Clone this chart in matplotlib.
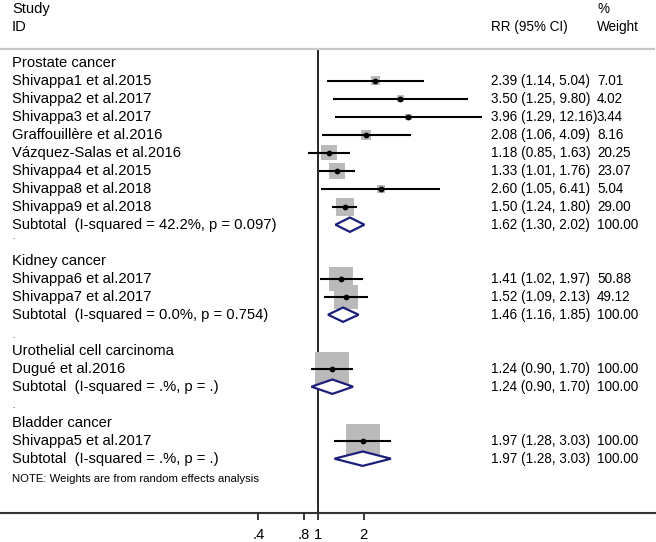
import numpy as np
import matplotlib
matplotlib.use('Agg')
import matplotlib.pyplot as plt
from matplotlib.transforms import blended_transform_factory
from matplotlib.ticker import NullLocator

plt.rcParams['font.family'] = ['Liberation Sans', 'DejaVu Sans']

# data
group_names = ['Prostate cancer', 'Kidney cancer', 'Urothelial cell carcinoma', 'Bladder cancer']

prostate_ids = ['Shivappa1 et al.2015', 'Shivappa2 et al.2017', 'Shivappa3 et al.2017',
                'Graffouillère et al.2016', 'Vázquez-Salas et al.2016', 'Shivappa4 et al.2015',
                'Shivappa8 et al.2018', 'Shivappa9 et al.2018']
prostate_rr = [2.39, 3.50, 3.96, 2.08, 1.18, 1.33, 2.60, 1.50]
prostate_lo = [1.14, 1.25, 1.29, 1.06, 0.85, 1.01, 1.05, 1.24]
prostate_hi = [5.04, 9.80, 12.16, 4.09, 1.63, 1.76, 6.41, 1.80]
prostate_w = [7.01, 4.02, 3.44, 8.16, 20.25, 23.07, 5.04, 29.00]

kidney_ids = ['Shivappa6 et al.2017', 'Shivappa7 et al.2017']
kidney_rr = [1.41, 1.52]
kidney_lo = [1.02, 1.09]
kidney_hi = [1.97, 2.13]
kidney_w = [50.88, 49.12]

uro_ids = ['Dugué et al.2016']
uro_rr = [1.24]
uro_lo = [0.90]
uro_hi = [1.70]
uro_w = [100.00]

bladder_ids = ['Shivappa5 et al.2017']
bladder_rr = [1.97]
bladder_lo = [1.28]
bladder_hi = [3.03]
bladder_w = [100.00]

subtotal_rr = [1.62, 1.46, 1.24, 1.97]
subtotal_lo = [1.30, 1.16, 0.90, 1.28]
subtotal_hi = [2.02, 1.85, 1.70, 3.03]
subtotal_i2 = ['42.2%', '0.0%', '.%', '.%']
subtotal_p = ['0.097', '0.754', '.', '.']

xticks = [0.4, 0.8, 1, 2]
xtick_labels = ['.4', '.8', '1', '2']

groups = [
    (prostate_ids, prostate_rr, prostate_lo, prostate_hi, prostate_w),
    (kidney_ids, kidney_rr, kidney_lo, kidney_hi, kidney_w),
    (uro_ids, uro_rr, uro_lo, uro_hi, uro_w),
    (bladder_ids, bladder_rr, bladder_lo, bladder_hi, bladder_w),
]

fig = plt.figure(figsize=(6.56, 5.42), dpi=100)
ax = fig.add_axes([0, 0, 1, 1])
ax.set_xscale('log')
ax.set_xlim(np.exp(-318.3 / 65.5), np.exp((656 - 318.3) / 65.5))
ax.set_ylim(26.628, -3.483)

tr = blended_transform_factory(ax.transAxes, ax.transData)
fs = 10.6     # left column
fs_r = 9.75   # right columns
x_lab = 12 / 656
x_eff = 491 / 656
x_wt = 597 / 656
navy = '#1b1f7a'
box_color = '#bababa'

# header
ax.text(x_lab, -3, 'Study', transform=tr, fontsize=fs, va='center')
ax.text(x_lab, -2, 'ID', transform=tr, fontsize=fs, va='center')
ax.text(x_eff, -2, 'RR (95% CI)', transform=tr, fontsize=fs_r, va='center')
ax.text(x_wt, -3, '%', transform=tr, fontsize=fs_r, va='center')
ax.text(x_wt, -2, 'Weight', transform=tr, fontsize=fs_r, va='center')
ax.axhline(-0.76, xmin=0, xmax=654 / 656, color='#c8c8c8', lw=1.6)

row = 0
for g, (ids, rr, lo, hi, w) in enumerate(groups):
    ax.text(x_lab, row, group_names[g], transform=tr, fontsize=fs, va='center')
    row += 1
    rows = np.arange(row, row + len(ids))
    side = 34 * np.sqrt(np.array(w) / 100) * 0.72
    ax.scatter(rr, rows, s=side ** 2, marker='s', color=box_color, linewidths=0, zorder=2)
    ax.hlines(rows, lo, hi, color='black', lw=1.5, zorder=3)
    ax.scatter(rr, rows, s=10, marker='o', color='black', zorder=4)
    for i in range(len(ids)):
        ax.text(x_lab, rows[i], ids[i], transform=tr, fontsize=fs, va='center')
        ax.text(x_eff, rows[i], '%.2f (%.2f, %.2f)' % (rr[i], lo[i], hi[i]),
                transform=tr, fontsize=fs_r, va='center')
        ax.text(x_wt, rows[i], '%.2f' % w[i], transform=tr, fontsize=fs_r, va='center')
    row += len(ids)
    # subtotal diamond
    h = 0.4
    est, l, u = subtotal_rr[g], subtotal_lo[g], subtotal_hi[g]
    ax.fill([l, est, u, est], [row, row - h, row, row + h], facecolor='white',
            edgecolor=navy, lw=1.6, zorder=5)
    ax.text(x_lab, row, 'Subtotal  (I-squared = %s, p = %s)' % (subtotal_i2[g], subtotal_p[g]),
            transform=tr, fontsize=fs, va='center')
    ax.text(x_eff, row, '%.2f (%.2f, %.2f)' % (est, l, u), transform=tr, fontsize=fs_r, va='center')
    ax.text(x_wt, row, '100.00', transform=tr, fontsize=fs_r, va='center')
    row += 2

# little dots left in the blank rows
for yd in [9.82, 15.32, 19.21]:
    ax.text(x_lab, yd, '.', transform=tr, fontsize=6, va='baseline')

ax.text(x_lab, 23.13, 'NOTE: Weights are from random effects analysis', transform=tr,
        fontsize=8.2, va='center')

# reference line at 1
ax.plot([1, 1], [-0.76, 25], color='black', lw=1.2, zorder=1)

# axis
for s in ['top', 'left', 'right']:
    ax.spines[s].set_visible(False)
ax.spines['bottom'].set_position(('data', 25))
ax.spines['bottom'].set_color('#333333')
ax.spines['bottom'].set_linewidth(1.5)
ax.set_yticks([])
ax.set_xticks(xticks)
ax.set_xticklabels(xtick_labels)
ax.xaxis.set_minor_locator(NullLocator())
ax.tick_params(axis='x', direction='out', length=5, width=1.1, labelsize=fs, pad=6)

fig.savefig('out.png', dpi=100)
